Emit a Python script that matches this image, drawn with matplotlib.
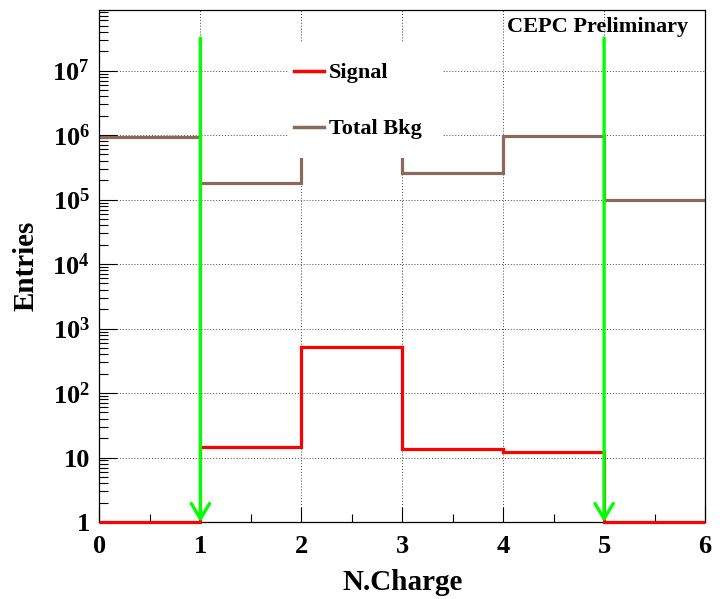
import numpy as np
import matplotlib
matplotlib.use("Agg")
import matplotlib.pyplot as plt
from matplotlib.patches import Rectangle
from matplotlib.lines import Line2D
from matplotlib.ticker import FixedLocator, FixedFormatter, LogLocator, NullFormatter

plt.rcParams['font.family'] = ['Liberation Serif', 'DejaVu Serif']
plt.rcParams['font.weight'] = 'bold'
plt.rcParams['mathtext.fontset'] = 'custom'
plt.rcParams['mathtext.rm'] = 'Liberation Serif:bold'
plt.rcParams['mathtext.bf'] = 'Liberation Serif:bold'
plt.rcParams['mathtext.default'] = 'rm'

# histogram content, bins of N.Charge
bin_edges = [0, 1, 2, 3, 4, 5, 6]
signal = [1, 14.5, 515, 13.5, 12.2, 1]
total_bkg = [9.5e5, 1.8e5, 1.5e6, 2.6e5, 9.6e5, 9.8e4]

# cut positions (green arrows)
cuts = [1, 5]
arrow_top = 3.2e7

y_ticks = [1, 10, 1e2, 1e3, 1e4, 1e5, 1e6, 1e7]
y_ticklabels = ['1', '10', '$10^{2}$', '$10^{3}$', '$10^{4}$', '$10^{5}$', '$10^{6}$', '$10^{7}$']
x_ticks = [0, 1, 2, 3, 4, 5, 6]

red = '#ff0000'
brown = '#8b6a5b'
green = '#00ff00'

fig = plt.figure(figsize=(7.22, 5.99), dpi=100)
ax = fig.add_axes([0.1378, 0.1285, 0.8387, 0.8548])

ax.set_yscale('log')
ax.set_xlim(0, 6)
ax.set_ylim(1, 8.7e7)

ax.stairs(total_bkg, bin_edges, baseline=None, color=brown, lw=2.3, zorder=2)
ax.stairs(signal, bin_edges, baseline=None, color=red, lw=2.3, zorder=3, clip_on=False)

for c in cuts:
    ax.annotate('', xy=(c, 1), xytext=(c, arrow_top),
                arrowprops=dict(arrowstyle='->,head_length=0.55,head_width=0.33',
                                color=green, lw=2.4, shrinkA=0, shrinkB=0,
                                mutation_scale=20),
                annotation_clip=False, zorder=4)

# ticks
ax.xaxis.set_major_locator(FixedLocator(x_ticks))
ax.xaxis.set_minor_locator(FixedLocator(np.arange(0.5, 6, 1.0)))
ax.yaxis.set_major_locator(FixedLocator(y_ticks))
ax.yaxis.set_major_formatter(FixedFormatter(y_ticklabels))
ax.yaxis.set_minor_locator(LogLocator(base=10, subs=np.arange(2, 10), numticks=20))
ax.yaxis.set_minor_formatter(NullFormatter())
ax.tick_params(axis='x', which='major', direction='in', length=10.8, width=0.8,
               labelsize=19, pad=9, top=False)
ax.tick_params(axis='x', which='minor', direction='in', length=5.8, width=0.8, top=False)
ax.tick_params(axis='y', which='major', direction='in', length=13, width=0.8,
               labelsize=19, pad=7, right=False)
ax.tick_params(axis='y', which='minor', direction='in', length=6.5, width=0.8, right=False)
for lab in ax.get_xticklabels() + ax.get_yticklabels():
    lab.set_fontweight('bold')

ax.grid(True, which='major', color='#444444', linestyle=(0, (1, 2)), lw=0.7, zorder=0)
ax.set_axisbelow(True)
for s in ax.spines.values():
    s.set_linewidth(0.9)

ax.set_xlabel('N.Charge', fontsize=21, fontweight='bold', labelpad=8)
ax.set_ylabel('Entries', fontsize=21, fontweight='bold', labelpad=9)

# legend box (white, no border) over the plot
ax.add_patch(Rectangle((0.311, 0.711), 0.255, 0.2245, transform=ax.transAxes,
                       facecolor='white', edgecolor='none', zorder=3))
handles = [Line2D([], [], color=red, lw=2.5), Line2D([], [], color=brown, lw=2.5)]
ax.legend(handles, ['Signal', 'Total Bkg'], loc='upper left',
          bbox_to_anchor=(0.311, 0.91), frameon=False,
          handlelength=1.35, handletextpad=0.2, labelspacing=1.6,
          borderpad=0.0, borderaxespad=0.3, prop={'weight': 'bold', 'size': 16}).set_zorder(5)

ax.text(0.972, 0.986, 'CEPC Preliminary', transform=ax.transAxes, ha='right', va='top',
        fontsize=16, fontweight='bold', zorder=5)

fig.savefig('out.png', dpi=100)
